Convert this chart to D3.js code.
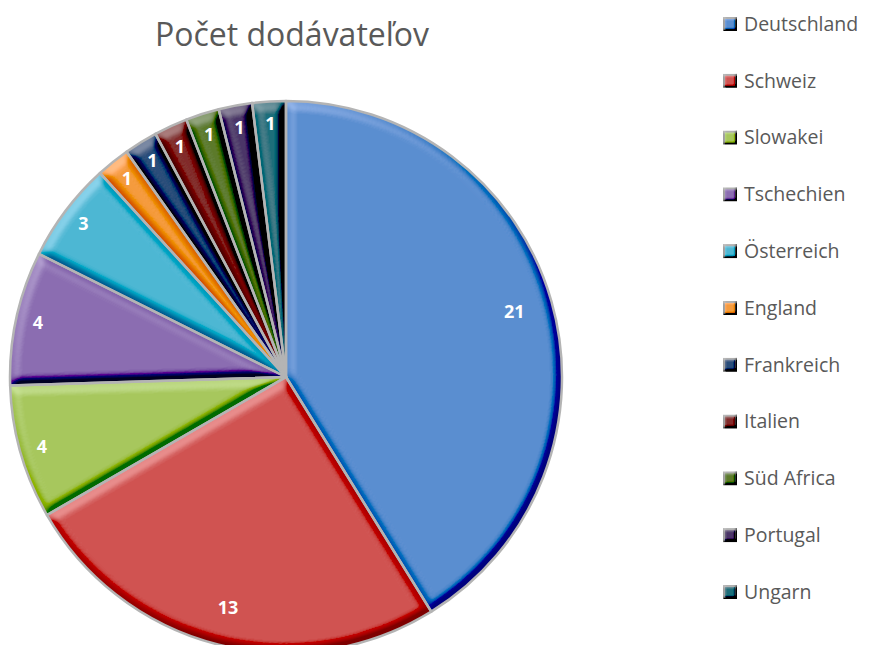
<!DOCTYPE html>
<html>
<head>
<meta charset="utf-8">
<script src="https://d3js.org/d3.v7.min.js"></script>
<style>
  body { margin: 0; background: #fff; }
  text { font-family: "Open Sans", "Noto Sans", sans-serif; }
</style>
</head>
<body>
<script>

var countries = ["Deutschland", "Schweiz", "Slowakei", "Tschechien", "Österreich", "England",
                 "Frankreich", "Italien", "Süd Africa", "Portugal", "Ungarn"];
var suppliers = [21, 13, 4, 4, 3, 1, 1, 1, 1, 1, 1];
var colors = ["#5a8ed0", "#d05452", "#a7c75d", "#8b6db1", "#4db7d3", "#f59b3e",
              "#2b4e7a", "#822c2a", "#5c7a2b", "#4b3668", "#1f6e7b"];

var width = 871, height = 645;
var cx = 286, cy = 377, r = 276;

var svg = d3.select("body").append("svg")
    .attr("width", width)
    .attr("height", height);

// bevel look
var defs = svg.append("defs");
function bevel(id, blur, scale) {
  var f = defs.append("filter").attr("id", id)
      .attr("x", "-10%").attr("y", "-10%").attr("width", "120%").attr("height", "120%");
  f.append("feGaussianBlur").attr("in", "SourceAlpha").attr("stdDeviation", blur).attr("result", "b");
  var l = f.append("feDiffuseLighting").attr("in", "b").attr("surfaceScale", scale)
      .attr("diffuseConstant", 1).attr("lighting-color", "#fff").attr("result", "light");
  l.append("feDistantLight").attr("azimuth", 235).attr("elevation", 45);
  f.append("feComposite").attr("in", "SourceGraphic").attr("in2", "light")
      .attr("operator", "arithmetic").attr("k1", 0).attr("k2", 1).attr("k3", 0.6).attr("k4", -0.424)
      .attr("result", "lit");
  f.append("feComposite").attr("in", "lit").attr("in2", "SourceAlpha").attr("operator", "in");
}
bevel("bevel", 5, 10);
bevel("bevelSmall", 1.5, 3);

var data = countries.map(function(c, i) { return { name: c, value: suppliers[i], color: colors[i] }; });

var pie = d3.pie().sort(null).value(function(d) { return d.value; });
var arcs = pie(data);

var arc = d3.arc().innerRadius(0).outerRadius(r);

var g = svg.append("g").attr("transform", "translate(" + cx + "," + cy + ")");

g.selectAll(".slice")
    .data(arcs)
  .enter().append("path")
    .attr("class", "slice")
    .attr("d", arc)
    .attr("fill", function(d) { return d.data.color; })
    .attr("filter", "url(#bevel)");

g.selectAll(".edge")
    .data(arcs)
  .enter().append("path")
    .attr("class", "edge")
    .attr("d", arc)
    .attr("fill", "none")
    .attr("stroke", "#b4b4b4")
    .attr("stroke-width", 2.5)
    .attr("stroke-linejoin", "round");

g.selectAll(".lbl")
    .data(arcs)
  .enter().append("text")
    .attr("class", "lbl")
    .attr("transform", function(d) {
      var k = d.data.value > 10 ? 0.86 : 0.92;
      var a = (d.startAngle + d.endAngle) / 2;
      return "translate(" + (Math.sin(a) * r * k) + "," + (-Math.cos(a) * r * k) + ")";
    })
    .attr("text-anchor", "middle")
    .attr("dy", "0.35em")
    .style("font-size", "18px")
    .style("font-weight", "bold")
    .style("fill", "#fff")
    .text(function(d) { return d.data.value; });

svg.append("text")
    .attr("x", 292)
    .attr("y", 46)
    .attr("text-anchor", "middle")
    .style("font-size", "32px")
    .style("fill", "#595959")
    .text("Počet dodávateľov");

var legend = svg.selectAll(".legend")
    .data(data)
  .enter().append("g")
    .attr("class", "legend")
    .attr("transform", function(d, i) { return "translate(724," + (24 + i * 56.8) + ")"; });

legend.append("rect")
    .attr("x", 0).attr("y", -6)
    .attr("width", 12).attr("height", 12)
    .attr("fill", function(d) { return d.color; })
    .attr("stroke", "#9a9a9a")
    .attr("stroke-width", 2)
    .attr("filter", "url(#bevelSmall)");

legend.append("text")
    .attr("x", 20)
    .attr("dy", "0.35em")
    .style("font-size", "19.5px")
    .style("fill", "#595959")
    .text(function(d) { return d.name; });

</script>
</body>
</html>
